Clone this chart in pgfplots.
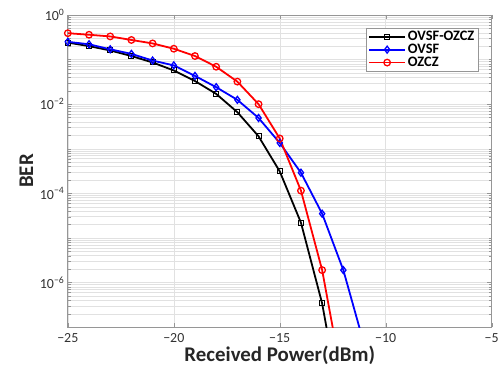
\documentclass[border=0pt]{standalone}
\usepackage{fontspec}
\setmainfont{Carlito}
\usepackage{pgfplots}
\pgfplotsset{compat=1.18}
\definecolor{tickgray}{RGB}{50,50,50}
\definecolor{gridgray}{RGB}{225,225,225}
\definecolor{boxgray}{RGB}{150,150,150}
\begin{document}
\begin{tikzpicture}
\begin{semilogyaxis}[
  scale only axis, width=425bp, height=313bp,
  xmin=-25, xmax=-5, ymin=1e-7, ymax=1,
  xtick={-25,-20,-15,-10,-5},
  xticklabels={−25,−20,−15,−10,−5},
  ytick={1,1e-2,1e-4,1e-6},
  yticklabels={10\textsuperscript{0},10\textsuperscript{−2},10\textsuperscript{−4},10\textsuperscript{−6}},
  minor ytick={0.2,0.3,0.4,0.5,0.6,0.7,0.8,0.9,0.1,
  0.02,0.03,0.04,0.05,0.06,0.07,0.08,0.09,0.01,
  0.002,0.003,0.004,0.005,0.006,0.007,0.008,0.009,0.001,
  2e-4,3e-4,4e-4,5e-4,6e-4,7e-4,8e-4,9e-4,1e-4,
  2e-5,3e-5,4e-5,5e-5,6e-5,7e-5,8e-5,9e-5,1e-5,
  2e-6,3e-6,4e-6,5e-6,6e-6,7e-6,8e-6,9e-6,1e-6,
  2e-7,3e-7,4e-7,5e-7,6e-7,7e-7,8e-7,9e-7},
  grid=both,
  major grid style={gridgray, line width=0.5pt},
  minor grid style={gridgray, line width=0.4pt},
  axis line style={boxgray, line width=0.8pt},
  tick style={boxgray},
  ticklabel style={font=\fontsize{14}{16}\selectfont, text=tickgray},
  xticklabel style={yshift=-3bp},
  xlabel={\textbf{Received Power(dBm)}},
  ylabel={\textbf{BER}},
  label style={font=\fontsize{21}{23}\selectfont, text=black!85},
  xlabel style={yshift=4bp},
  legend image code/.code={
    \draw[line width=1.8pt, mark=none] (0bp,0bp) -- (36bp,0bp);
    \draw plot coordinates {(18bp,0bp)};},
  legend style={at={(0.969,0.958)}, anchor=north east, draw=boxgray,
    font=\bfseries\fontsize{14.5}{16}\selectfont, row sep=0pt, inner sep=2pt,
    nodes={inner xsep=2pt, inner ysep=1pt}},
  legend cell align=left,
  clip=true,
]
\addplot[black, line width=1.8pt, mark=square, mark size=2.5pt, mark options={line width=1pt}] coordinates {
(-25,0.24) (-24,0.20) (-23,0.16) (-22,0.12) (-21,0.086) (-20,0.057) (-19,0.033) (-18,0.017)
(-17,6.6e-3) (-16,1.9e-3) (-15,3.1e-4) (-14,2.2e-5) (-13,3.4e-7) (-12,8e-10)};
\addlegendentry{OVSF-OZCZ}
\addplot[blue, line width=1.8pt, mark=diamond, mark size=3.5pt, mark options={line width=1.3pt}] coordinates {
(-25,0.25) (-24,0.22) (-23,0.17) (-22,0.134) (-21,0.095) (-20,0.074) (-19,0.043) (-18,0.024)
(-17,0.0125) (-16,4.9e-3) (-15,1.35e-3) (-14,2.9e-4) (-13,3.5e-5) (-12,1.9e-6) (-11,3.8e-8)};
\addlegendentry{OVSF}
\addplot[red, line width=1.8pt, mark=o, mark size=3.3pt, mark options={line width=1.3pt}] coordinates {
(-25,0.39) (-24,0.36) (-23,0.33) (-22,0.275) (-21,0.23) (-20,0.175) (-19,0.12) (-18,0.069)
(-17,0.032) (-16,0.01) (-15,1.7e-3) (-14,1.15e-4) (-13,1.9e-6) (-12,5e-9)};
\addlegendentry{OZCZ}
\end{semilogyaxis}
\path (current axis.south west) ++(-68bp,-46bp) coordinate (bl);
\path (current axis.north east) ++(9bp,15bp) coordinate (tr);
\useasboundingbox (bl) rectangle (tr);
\end{tikzpicture}
\end{document}
